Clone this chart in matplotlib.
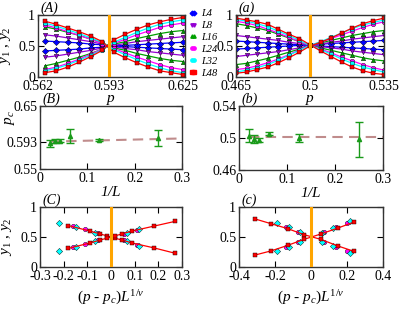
import matplotlib
matplotlib.use('Agg')
import matplotlib.pyplot as plt

plt.rcParams['font.family'] = ['Liberation Serif', 'DejaVu Serif']
plt.rcParams['mathtext.fontset'] = 'custom'
plt.rcParams['mathtext.rm'] = 'Liberation Serif'
plt.rcParams['mathtext.it'] = 'Liberation Serif:italic'
plt.rcParams['axes.unicode_minus'] = False

# ---- dados ----
labels = ['L4', 'L8', 'L16', 'L24', 'L32', 'L48']
colors = ['#0000ff', '#9400d3', '#00a000', '#ff00ff', '#00ffff', '#ff0000']
markers = ['D', 'v', '^', 'o', 'o', 's']

# painel (A)
p_A = [0.565, 0.570, 0.575, 0.580, 0.585, 0.590, 0.595, 0.600, 0.605, 0.610, 0.615, 0.620, 0.625]
pc_A = 0.593
A_dec = [
    [0.58, 0.57, 0.56, 0.55, 0.53, 0.52, 0.50, 0.49, 0.48, 0.47, 0.46, 0.45, 0.44],
    [0.68, 0.66, 0.63, 0.60, 0.57, 0.53, 0.49, 0.46, 0.44, 0.41, 0.39, 0.37, 0.35],
    [0.81, 0.77, 0.72, 0.67, 0.61, 0.55, 0.47, 0.43, 0.38, 0.34, 0.30, 0.27, 0.25],
    [0.84, 0.79, 0.73, 0.67, 0.61, 0.54, 0.46, 0.39, 0.32, 0.26, 0.20, 0.15, 0.12],
    [0.87, 0.82, 0.76, 0.70, 0.63, 0.56, 0.44, 0.36, 0.28, 0.21, 0.15, 0.10, 0.07],
    [0.90, 0.85, 0.79, 0.73, 0.66, 0.57, 0.40, 0.31, 0.23, 0.16, 0.10, 0.07, 0.04],
]
A_inc = [
    [0.42, 0.43, 0.44, 0.45, 0.47, 0.48, 0.50, 0.51, 0.52, 0.53, 0.54, 0.55, 0.56],
    [0.32, 0.34, 0.37, 0.40, 0.43, 0.47, 0.51, 0.54, 0.57, 0.59, 0.61, 0.63, 0.65],
    [0.18, 0.22, 0.27, 0.32, 0.38, 0.45, 0.53, 0.57, 0.62, 0.66, 0.70, 0.73, 0.75],
    [0.12, 0.16, 0.22, 0.29, 0.37, 0.45, 0.54, 0.61, 0.68, 0.74, 0.80, 0.84, 0.87],
    [0.10, 0.14, 0.20, 0.27, 0.35, 0.44, 0.56, 0.64, 0.72, 0.79, 0.85, 0.89, 0.92],
    [0.07, 0.10, 0.16, 0.24, 0.33, 0.43, 0.60, 0.69, 0.77, 0.84, 0.89, 0.93, 0.96],
]

# painel (a)
p_a = [0.465, 0.470, 0.475, 0.480, 0.485, 0.490, 0.495, 0.500,
       0.505, 0.510, 0.515, 0.520, 0.525, 0.530, 0.535]
pc_a = 0.5
a_dec = [
    [0.58, 0.57, 0.56, 0.55, 0.54, 0.53, 0.52, 0.51, 0.50, 0.49, 0.48, 0.47, 0.46, 0.45, 0.44],
    [0.67, 0.65, 0.63, 0.61, 0.59, 0.56, 0.54, 0.52, 0.49, 0.47, 0.45, 0.42, 0.40, 0.38, 0.36],
    [0.86, 0.83, 0.79, 0.75, 0.69, 0.63, 0.57, 0.51, 0.47, 0.43, 0.39, 0.35, 0.31, 0.28, 0.26],
    [0.90, 0.87, 0.83, 0.77, 0.71, 0.64, 0.57, 0.51, 0.45, 0.39, 0.32, 0.26, 0.20, 0.15, 0.11],
    [0.93, 0.90, 0.86, 0.81, 0.74, 0.67, 0.59, 0.51, 0.44, 0.37, 0.29, 0.22, 0.16, 0.12, 0.08],
    [0.95, 0.92, 0.89, 0.85, 0.77, 0.69, 0.62, 0.52, 0.42, 0.33, 0.24, 0.16, 0.10, 0.06, 0.04],
]
a_inc = [
    [0.45, 0.46, 0.47, 0.48, 0.49, 0.50, 0.51, 0.52, 0.53, 0.54, 0.55, 0.56, 0.57, 0.58, 0.59],
    [0.33, 0.35, 0.37, 0.39, 0.41, 0.44, 0.47, 0.51, 0.53, 0.56, 0.58, 0.61, 0.63, 0.65, 0.67],
    [0.20, 0.22, 0.26, 0.30, 0.35, 0.40, 0.45, 0.51, 0.55, 0.59, 0.63, 0.67, 0.70, 0.73, 0.75],
    [0.12, 0.14, 0.18, 0.23, 0.29, 0.36, 0.44, 0.51, 0.56, 0.62, 0.68, 0.74, 0.80, 0.85, 0.89],
    [0.08, 0.11, 0.15, 0.20, 0.27, 0.35, 0.43, 0.51, 0.57, 0.64, 0.71, 0.78, 0.84, 0.88, 0.92],
    [0.06, 0.08, 0.12, 0.16, 0.23, 0.31, 0.40, 0.50, 0.56, 0.63, 0.71, 0.79, 0.86, 0.91, 0.95],
]

# paineis (B) e (b): p_c(L) contra 1/L
invL = [1/48, 1/32, 1/24, 1/16, 1/8, 1/4]
pc_B = [0.5905, 0.5945, 0.5950, 0.6030, 0.5960, 0.5990]
err_B = [0.0055, 0.0030, 0.0022, 0.0110, 0.0022, 0.0130]
fitx_B = [0.02, 0.30]
fity_B = [0.5935, 0.5985]
pc_b = [0.5030, 0.4990, 0.4975, 0.5055, 0.4995, 0.4985]
err_b = [0.0080, 0.0050, 0.0025, 0.0020, 0.0050, 0.0220]
fitx_b = [0.02, 0.30]
fity_b = [0.5010, 0.5010]

# painel (C): colapso
C_x = {
    'L24': [-0.16, -0.108, -0.054, 0.054, 0.108],
    'L32': [-0.22, -0.15, -0.067, 0.067, 0.12],
    'L48': [-0.18, -0.09, -0.045, -0.018, 0.018, 0.045, 0.09, 0.18, 0.27],
}
C_dec = {
    'L24': [0.69, 0.63, 0.56, 0.45, 0.36],
    'L32': [0.74, 0.66, 0.57, 0.44, 0.35],
    'L48': [0.69, 0.60, 0.55, 0.52, 0.48, 0.45, 0.40, 0.32, 0.23],
}
C_inc = {
    'L24': [0.33, 0.38, 0.45, 0.55, 0.62],
    'L32': [0.26, 0.34, 0.44, 0.57, 0.64],
    'L48': [0.31, 0.40, 0.45, 0.48, 0.52, 0.55, 0.60, 0.68, 0.76],
}
# painel (c)
c_x = {
    'L24': [-0.14, -0.07, 0.07, 0.14, 0.20],
    'L32': [-0.19, -0.12, -0.06, 0.06, 0.12, 0.215],
    'L48': [-0.31, -0.22, -0.13, -0.04, 0.055, 0.15, 0.24],
}
c_dec = {
    'L24': [0.66, 0.59, 0.41, 0.34, 0.27],
    'L32': [0.73, 0.66, 0.58, 0.42, 0.35, 0.24],
    'L48': [0.80, 0.72, 0.64, 0.54, 0.46, 0.35, 0.26],
}
c_inc = {
    'L24': [0.34, 0.41, 0.59, 0.67, 0.74],
    'L32': [0.27, 0.34, 0.42, 0.57, 0.65, 0.77],
    'L48': [0.20, 0.27, 0.36, 0.46, 0.55, 0.65, 0.75],
}


def estilo(ax):
    ax.tick_params(direction='in', top=True, right=True, length=4,
                   width=0.8, labelsize=10, pad=2)
    for s in ax.spines.values():
        s.set_linewidth(1.0)
        s.set_color('#333333')


def rotulo(ax, txt):
    ax.text(0.02, 1.0, txt, transform=ax.transAxes, fontsize=10,
            style='italic', va='bottom', ha='left')


W, H = 399, 312
fig = plt.figure(figsize=(W / 100, H / 100), dpi=100)

def caixa(l, r, t, b):
    return [l / W, 1 - b / H, (r - l) / W, (b - t) / H]

axA = fig.add_axes(caixa(38, 185, 15, 77))
axa = fig.add_axes(caixa(236, 384, 15, 77))
axB = fig.add_axes(caixa(40, 182, 106, 169))
axb = fig.add_axes(caixa(239, 383, 106, 170))
axC = fig.add_axes(caixa(40, 182, 207, 267))
axc = fig.add_axes(caixa(239, 383, 207, 267))

kw = dict(ms=3.2, mec='k', mew=0.3, lw=0.9)

# (A) e (a)
for ax, p, dec, inc, pc in [(axA, p_A, A_dec, A_inc, pc_A), (axa, p_a, a_dec, a_inc, pc_a)]:
    for i in range(len(labels)):
        ax.plot(p, dec[i], color=colors[i], marker=markers[i], **kw)
        ax.plot(p, inc[i], color=colors[i], marker=markers[i], **kw)
    ax.axvline(pc, color='#ffa500', lw=2.2, zorder=5)
    ax.set_ylim(0, 1)
    ax.set_yticks([0, 0.5, 1])
    ax.set_yticklabels(['0', '0.5', '1'])
    ax.set_xlabel('$p$', fontsize=11, labelpad=0)
    estilo(ax)

axA.set_xlim(0.562, 0.626)
axA.set_xticks([0.562, 0.593, 0.625])
axA.set_xticklabels(['0.562', '0.593', '0.625'])
axa.set_xlim(0.465, 0.535)
axa.set_xticks([0.465, 0.5, 0.535])
axa.set_xticklabels(['0.465', '0.5', '0.535'])
axA.set_ylabel('$y_1$ , $y_2$', fontsize=11)
axA.yaxis.set_label_coords(-0.17, 0.5)
rotulo(axA, '(A)')
rotulo(axa, '(a)')

# (B) e (b)
for ax, y, e, fx, fy in [(axB, pc_B, err_B, fitx_B, fity_B), (axb, pc_b, err_b, fitx_b, fity_b)]:
    ax.plot(fx, fy, color='#c08c8c', lw=1.5, dashes=(5, 3), zorder=1)
    ax.errorbar(invL, y, yerr=e, fmt='^', color='#1a9a1a', ms=3, capsize=3,
                elinewidth=1, capthick=1, zorder=3)
    ax.set_xlim(0, 0.3)
    ax.set_xticks([0, 0.1, 0.2, 0.3])
    ax.set_xticklabels(['0', '0.1', '0.2', '0.3'])
    ax.set_xlabel('1/$L$', fontsize=11, style='italic', labelpad=0)
    estilo(ax)

axB.set_ylim(0.55, 0.65)
axB.set_yticks([0.55, 0.593, 0.65])
axB.set_yticklabels(['0.55', '0.593', '0.65'])
axB.set_ylabel('$p_c$', fontsize=11)
axB.yaxis.set_label_coords(-0.16, 0.82)
axb.set_ylim(0.46, 0.54)
axb.set_yticks([0.46, 0.5, 0.54])
axb.set_yticklabels(['0.46', '0.5', '0.54'])
rotulo(axB, '(B)')
rotulo(axb, '(b)')

# (C) e (c)
for ax, xs, dec, inc in [(axC, C_x, C_dec, C_inc), (axc, c_x, c_dec, c_inc)]:
    for nome, cor, mk in [('L24', '#ff00ff', 'o'), ('L32', '#00ffff', 'D'), ('L48', '#ff0000', 's')]:
        estilo_linha = '-' if nome == 'L48' else 'none'
        ax.plot(xs[nome], dec[nome], color=cor, marker=mk, ls=estilo_linha, **kw)
        ax.plot(xs[nome], inc[nome], color=cor, marker=mk, ls=estilo_linha, **kw)
    ax.axvline(0, color='#ffa500', lw=2.2, zorder=5)
    ax.set_ylim(0, 1)
    ax.set_yticks([0, 0.5, 1])
    ax.set_yticklabels(['0', '0.5', '1'])
    ax.set_xlabel('$(p$ - $p_c)L^{1/\\nu}$', fontsize=11, labelpad=4)
    estilo(ax)

axC.set_xlim(-0.3, 0.3)
axC.set_xticks([-0.3, -0.2, -0.1, 0, 0.1, 0.2, 0.3])
axC.set_xticklabels(['-0.3', '-0.2', '-0.1', '0', '0.1', '0.2', '0.3'])
axc.set_xlim(-0.4, 0.4)
axc.set_xticks([-0.4, -0.2, 0, 0.2, 0.4])
axc.set_xticklabels(['-0.4', '-0.2', '0', '0.2', '0.4'])
axC.set_ylabel('$y_1$ , $y_2$', fontsize=11)
axC.yaxis.set_label_coords(-0.18, 0.5)
rotulo(axC, '(C)')
rotulo(axc, '(c)')

# legenda entre os paineis de cima
handles = [plt.Line2D([], [], color=colors[i], marker=markers[i], ms=2.4, mec=colors[i], lw=0.6)
           for i in range(len(labels))]
fig.legend(handles, labels, loc='upper left', bbox_to_anchor=(189 / W, 1 - 9 / H),
           frameon=False, prop={'style': 'italic', 'size': 7.5},
           handlelength=0.8, handletextpad=0.4, labelspacing=0.25, numpoints=2,
           borderaxespad=0, borderpad=0)

plt.savefig('out.png', dpi=100)
